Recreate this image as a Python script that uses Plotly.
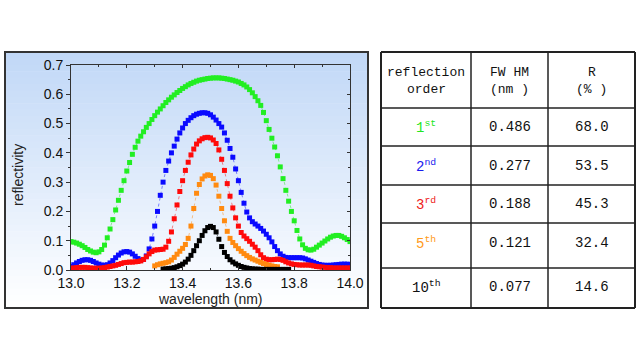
import plotly.graph_objects as go

# ---------------- data ----------------
wl_full = [round(13.00 + 0.01 * i, 2) for i in range(101)]

green_1st = [0.097, 0.095, 0.092, 0.088, 0.083, 0.077, 0.070, 0.065, 0.061, 0.059,
             0.062, 0.070, 0.085, 0.110, 0.140, 0.172, 0.205, 0.238, 0.272, 0.305,
             0.338, 0.367, 0.395, 0.419, 0.440, 0.457, 0.472, 0.487, 0.500, 0.514,
             0.527, 0.539, 0.550, 0.561, 0.572, 0.581, 0.590, 0.598, 0.606, 0.613,
             0.620, 0.626, 0.632, 0.637, 0.641, 0.645, 0.648, 0.650, 0.652, 0.654,
             0.655, 0.656, 0.656, 0.656, 0.655, 0.654, 0.652, 0.650, 0.648, 0.645,
             0.642, 0.637, 0.632, 0.625, 0.616, 0.605, 0.592, 0.578, 0.562, 0.538,
             0.510, 0.480, 0.450, 0.420, 0.390, 0.352, 0.312, 0.272, 0.235, 0.200,
             0.168, 0.135, 0.106, 0.086, 0.074, 0.069, 0.068, 0.071, 0.078, 0.085,
             0.092, 0.099, 0.106, 0.112, 0.116, 0.118, 0.118, 0.115, 0.110, 0.104,
             0.097]

blue_2nd = [0.012, 0.018, 0.024, 0.029, 0.033, 0.035, 0.035, 0.033, 0.029, 0.024,
            0.020, 0.017, 0.016, 0.018, 0.024, 0.032, 0.042, 0.051, 0.058, 0.062,
            0.063, 0.061, 0.055, 0.047, 0.039, 0.034, 0.036, 0.048, 0.072, 0.106,
            0.150, 0.200, 0.255, 0.300, 0.340, 0.372, 0.400, 0.423, 0.447, 0.468,
            0.485, 0.500, 0.511, 0.520, 0.527, 0.532, 0.535, 0.537, 0.537, 0.535,
            0.530, 0.522, 0.512, 0.500, 0.488, 0.468, 0.443, 0.415, 0.385, 0.345,
            0.305, 0.265, 0.228, 0.198, 0.178, 0.165, 0.157, 0.150, 0.142, 0.133,
            0.122, 0.110, 0.096, 0.080, 0.066, 0.055, 0.047, 0.043, 0.042, 0.042,
            0.042, 0.042, 0.042, 0.041, 0.038, 0.034, 0.030, 0.026, 0.022, 0.019,
            0.017, 0.016, 0.016, 0.016, 0.017, 0.018, 0.019, 0.020, 0.020, 0.020,
            0.019]

red_3rd = [0.006, 0.007, 0.008, 0.009, 0.009, 0.009, 0.008, 0.007, 0.006, 0.006,
           0.006, 0.007, 0.008, 0.010, 0.012, 0.014, 0.016, 0.019, 0.022, 0.025,
           0.026, 0.027, 0.027, 0.028, 0.029, 0.031, 0.036, 0.045, 0.055, 0.063,
           0.068, 0.069, 0.070, 0.071, 0.078, 0.098, 0.130, 0.175, 0.222, 0.268,
           0.305, 0.340, 0.368, 0.393, 0.413, 0.430, 0.441, 0.448, 0.452, 0.453,
           0.451, 0.444, 0.432, 0.410, 0.378, 0.340, 0.295, 0.252, 0.212, 0.178,
           0.150, 0.128, 0.116, 0.107, 0.098, 0.088, 0.078, 0.066, 0.052, 0.042,
           0.037, 0.035, 0.035, 0.036, 0.037, 0.036, 0.033, 0.028, 0.024, 0.021,
           0.019, 0.018, 0.017, 0.017, 0.017, 0.017, 0.016, 0.014, 0.012, 0.011,
           0.010, 0.009, 0.008, 0.008, 0.007, 0.007, 0.007, 0.007, 0.007, 0.007,
           0.007]

wl_5th = [round(13.30 + 0.01 * i, 2) for i in range(45)]
orange_5th = [0.014, 0.018, 0.021, 0.023, 0.025, 0.028, 0.034, 0.043, 0.054, 0.064,
              0.074, 0.087, 0.108, 0.150, 0.210, 0.262, 0.292, 0.311, 0.321, 0.325,
              0.323, 0.312, 0.290, 0.252, 0.210, 0.168, 0.132, 0.108, 0.094, 0.083,
              0.073, 0.064, 0.056, 0.049, 0.043, 0.038, 0.034, 0.030, 0.026, 0.022,
              0.019, 0.016, 0.014, 0.012, 0.011]

wl_10th = [round(13.33 + 0.01 * i, 2) for i in range(46)]
black_10th = [0.003, 0.004, 0.005, 0.006, 0.008, 0.011, 0.015, 0.020, 0.027, 0.037,
              0.050, 0.066, 0.083, 0.100, 0.118, 0.134, 0.145, 0.149, 0.145, 0.130,
              0.105, 0.080, 0.060, 0.046, 0.035, 0.027, 0.021, 0.016, 0.012, 0.009,
              0.007, 0.005, 0.004, 0.003, 0.003, 0.002, 0.002, 0.002, 0.002, 0.002,
              0.002, 0.002, 0.002, 0.002, 0.002, 0.002]

# table content
orders = ["1<sup>st</sup>", "2<sup>nd</sup>", "3<sup>rd</sup>", "5<sup>th</sup>", "10<sup>th</sup>"]
fwhm = ["0.486", "0.277", "0.188", "0.121", "0.077"]
refl = ["68.0", "53.5", "45.3", "32.4", "14.6"]
order_colors = ["#22e622", "#1a1aee", "#ee1a1a", "#ff9a1a", "#111111"]

series = [
    (wl_full, green_1st, "#22ee22", "rgba(34,238,34,0.5)"),
    (wl_full, blue_2nd, "#0a0aff", "rgba(10,10,255,0.5)"),
    (wl_full, red_3rd, "#ff0a0a", "rgba(255,10,10,0.5)"),
    (wl_5th, orange_5th, "#ff8a10", "rgba(255,138,16,0.5)"),
    (wl_10th, black_10th, "#000000", "rgba(0,0,0,0.5)"),
]

W, H = 640, 360
def px(x):
    return x / W
def py(y):
    return 1 - y / H

fig = go.Figure()
for xs, ys, mc, lc in series:
    fig.add_trace(go.Scatter(
        x=xs, y=ys, mode="lines+markers",
        marker=dict(symbol="square", size=5, color=mc, line=dict(width=0)),
        line=dict(color=lc, width=1, dash="dot"),
        showlegend=False, hoverinfo="skip"))

shapes = []
# gradient background of left panel
x0p, x1p, ytop, ybot = 5, 368, 52, 308
N = 40
top_c = (193, 216, 247)
bot_c = (255, 255, 255)
for i in range(N):
    t = i / (N - 1)
    c = tuple(round(top_c[k] + (bot_c[k] - top_c[k]) * t) for k in range(3))
    ya = ytop + (ybot - ytop) * i / N
    yb = ytop + (ybot - ytop) * (i + 1) / N + 0.5
    shapes.append(dict(type="rect", xref="paper", yref="paper",
                       x0=px(x0p), x1=px(x1p), y0=py(yb), y1=py(ya),
                       fillcolor="rgb(%d,%d,%d)" % c, line=dict(width=0), layer="below"))
shapes.append(dict(type="rect", xref="paper", yref="paper",
                   x0=px(x0p), x1=px(x1p), y0=py(ybot), y1=py(ytop),
                   line=dict(color="#333333", width=2), fillcolor="rgba(0,0,0,0)", layer="above"))

# table grid
tx0, tx1 = 381, 635
col_b = [381, 471, 548, 635]
row_b = [52, 108, 146, 185, 223, 268, 308]
for xb in col_b:
    shapes.append(dict(type="line", xref="paper", yref="paper",
                       x0=px(xb), x1=px(xb), y0=py(row_b[0]), y1=py(row_b[-1]),
                       line=dict(color="#222222", width=2 if xb in (381, 635) else 1.5)))
for yb in row_b:
    shapes.append(dict(type="line", xref="paper", yref="paper",
                       x0=px(tx0), x1=px(tx1), y0=py(yb), y1=py(yb),
                       line=dict(color="#222222", width=2 if yb in (52, 308) else 1.5)))

annotations = []
def ann(x, y, text, font, **kw):
    d = dict(x=px(x), y=py(y), xref="paper", yref="paper", text=text, showarrow=False,
             xanchor="center", yanchor="middle", font=font)
    d.update(kw)
    annotations.append(d)

tfont = "Liberation Mono, DejaVu Sans Mono, monospace"
col_c = [(col_b[i] + col_b[i + 1]) / 2 for i in range(3)]
headers = [("reflection", "order"), ("FW HM", "(nm )"), ("R", "(% )")]
for c, (l1, l2) in zip(col_c, headers):
    ann(c, 73, l1, dict(family=tfont, size=13, color="#111"))
    ann(c, 89, l2, dict(family=tfont, size=13, color="#111"))
row_c = [127, 166, 204, 243, 287]
for i in range(5):
    ann(col_c[0], row_c[i], orders[i], dict(family=tfont, size=14, color=order_colors[i]))
    ann(col_c[1], row_c[i], fwhm[i], dict(family=tfont, size=14, color="#111"))
    ann(col_c[2], row_c[i], refl[i], dict(family=tfont, size=14, color="#111"))

# axis titles
afont = dict(family="Liberation Sans, Arial, sans-serif", size=14, color="#222")
ann(210, 299, "wavelength (nm)", afont)
ann(18, 175, "reflectivity", afont, textangle=-90)

xd = [px(71), px(350)]
yd = [py(270), py(65)]
tickfont = dict(family="Liberation Sans, Arial, sans-serif", size=14, color="#111")

fig.update_layout(
    width=W, height=H,
    margin=dict(l=0, r=0, t=0, b=0, pad=0, autoexpand=False),
    paper_bgcolor="white",
    plot_bgcolor="rgba(0,0,0,0)",
    shapes=shapes,
    annotations=annotations,
    xaxis=dict(domain=xd, range=[13.0, 14.0], tickvals=[13.0, 13.2, 13.4, 13.6, 13.8, 14.0],
               ticktext=["13.0", "13.2", "13.4", "13.6", "13.8", "14.0"],
               ticks="inside", ticklen=4, tickcolor="#333", showgrid=False, zeroline=False,
               showline=True, linecolor="#333", linewidth=1, tickfont=tickfont,
               minor=dict(ticks="inside", ticklen=2, dtick=0.1, tickcolor="#333"),
               anchor="y", fixedrange=True, automargin=False),
    yaxis=dict(domain=yd, range=[0.0, 0.7], tickvals=[0, 0.1, 0.2, 0.3, 0.4, 0.5, 0.6, 0.7],
               ticktext=["0.0", "0.1", "0.2", "0.3", "0.4", "0.5", "0.6", "0.7"],
               ticks="outside", ticklen=4, tickcolor="#333", showgrid=False, zeroline=False,
               showline=True, linecolor="#333", linewidth=1, tickfont=tickfont,
               minor=dict(ticks="outside", ticklen=2, dtick=0.05, tickcolor="#333"),
               anchor="x", fixedrange=True, automargin=False),
    xaxis2=dict(domain=xd, range=[13.0, 14.0], overlaying="x", side="top", anchor="y",
                dtick=0.2, ticks="inside", ticklen=3, tickcolor="#333", showticklabels=False,
                showgrid=False, zeroline=False, showline=True, linecolor="#333", linewidth=1,
                minor=dict(ticks="inside", ticklen=2, dtick=0.1, tickcolor="#333"),
                fixedrange=True, automargin=False),
    yaxis2=dict(domain=yd, range=[0.0, 0.7], overlaying="y", side="right", anchor="x",
                dtick=0.1, ticks="inside", ticklen=3, tickcolor="#333", showticklabels=False,
                showgrid=False, zeroline=False, showline=True, linecolor="#333", linewidth=1,
                minor=dict(ticks="inside", ticklen=2, dtick=0.05, tickcolor="#333"),
                fixedrange=True, automargin=False),
)
# invisible trace to activate the mirrored frame axes
fig.add_trace(go.Scatter(x=[13.0], y=[0.0], xaxis="x2", yaxis="y2", mode="markers",
                         marker=dict(size=0.1, opacity=0), showlegend=False, hoverinfo="skip"))

fig.write_html("out.html", config={"displayModeBar": False},
               post_script="document.body.style.margin='0px';document.body.style.overflow='hidden';")
